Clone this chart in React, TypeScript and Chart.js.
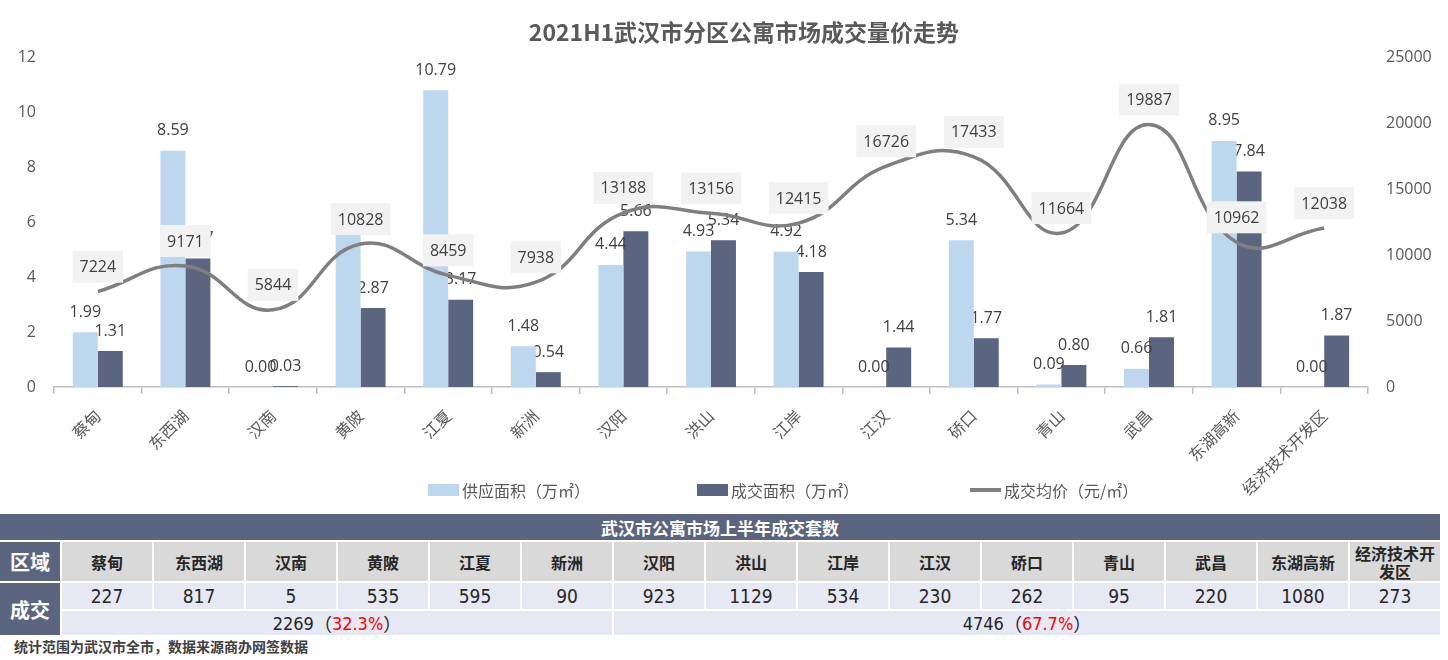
import React, { useEffect, useRef } from 'react';
import { Chart, registerables } from 'chart.js';

Chart.register(...registerables);

const titleText = '2021H1武汉市分区公寓市场成交量价走势';
const categories = ['蔡甸', '东西湖', '汉南', '黄陂', '江夏', '新洲', '汉阳', '洪山', '江岸', '江汉', '硚口', '青山', '武昌', '东湖高新', '经济技术开发区'];
const supplyArea = [1.99, 8.59, 0.0, 5.53, 10.79, 1.48, 4.44, 4.93, 4.92, 0.0, 5.34, 0.09, 0.66, 8.95, 0.0];
const dealArea = [1.31, 4.67, 0.03, 2.87, 3.17, 0.54, 5.66, 5.34, 4.18, 1.44, 1.77, 0.8, 1.81, 7.84, 1.87];
const avgPrice = [7224, 9171, 5844, 10828, 8459, 7938, 13188, 13156, 12415, 16726, 17433, 11664, 19887, 10962, 12038];
const seriesNames = ['供应面积（万㎡）', '成交面积（万㎡）', '成交均价（元/㎡）'];
const leftAxis = { min: 0, max: 12, step: 2 };
const rightAxis = { min: 0, max: 25000, step: 5000 };

const tableTitle = '武汉市公寓市场上半年成交套数';
const rowHeadRegion = '区域';
const rowHeadDeal = '成交';
const dealUnits = [227, 817, 5, 535, 595, 90, 923, 1129, 534, 230, 262, 95, 220, 1080, 273];
const groupTotals = ['2269', '4746'];
const groupShares = ['32.3%', '67.7%'];
const groupSpans = [6, 9];
const footnote = '统计范围为武汉市全市，数据来源商办网签数据';

const LIGHT = '#bdd7ee';
const DARK = '#5b6580';
const LINE = '#7f7f7f';
const TEXT = '#404040';
const AXIS_TEXT = '#595959';
const NUM_FONT = '"Open Sans", "Noto Sans CJK SC", sans-serif';
const CJK_FONT = '"Noto Sans CJK SC", "Open Sans", sans-serif';

const labelPlugin = {
  id: 'valueLabels',
  afterDatasetDraw(chart: any, args: any) {
    const meta = args.meta;
    const ds = chart.data.datasets[meta.index];
    const ctx = chart.ctx;
    ctx.save();
    ctx.font = `16px ${NUM_FONT}`;
    ctx.textAlign = 'center';
    ctx.textBaseline = 'middle';
    if (meta.type === 'bar') {
      meta.data.forEach((el: any, i: number) => {
        const v = ds.data[i] as number;
        ctx.fillStyle = TEXT;
        ctx.fillText(v.toFixed(2), el.x, el.y - 20);
      });
    } else if (meta.type === 'line') {
      meta.data.forEach((el: any, i: number) => {
        const txt = String(ds.data[i]);
        const w = ctx.measureText(txt).width + 14;
        const h = 32;
        const cy = el.y - 25;
        ctx.fillStyle = '#f2f2f2';
        ctx.fillRect(el.x - w / 2, cy - h / 2, w, h);
        ctx.fillStyle = TEXT;
        ctx.fillText(txt, el.x, cy + 1);
      });
    }
    ctx.restore();
  },
};

function ChartCanvas() {
  const ref = useRef<HTMLCanvasElement | null>(null);
  useEffect(() => {
    if (!ref.current) return;
    const chart = new Chart(ref.current, {
      type: 'bar',
      data: {
        labels: categories,
        datasets: [
          {
            type: 'bar',
            label: seriesNames[0],
            data: supplyArea,
            yAxisID: 'y',
            backgroundColor: LIGHT,
            barPercentage: 1,
            categoryPercentage: 0.57,
            order: 1,
          },
          {
            type: 'bar',
            label: seriesNames[1],
            data: dealArea,
            yAxisID: 'y',
            backgroundColor: DARK,
            barPercentage: 1,
            categoryPercentage: 0.57,
            order: 2,
          },
          {
            type: 'line',
            label: seriesNames[2],
            data: avgPrice,
            yAxisID: 'y1',
            borderColor: LINE,
            backgroundColor: LINE,
            borderWidth: 3.5,
            pointRadius: 0,
            tension: 0.45,
            order: 0,
          } as any,
        ],
      },
      options: {
        responsive: false,
        animation: false,
        layout: { padding: { top: 57, left: 0, right: 0, bottom: 0 } },
        plugins: {
          legend: { display: false },
          title: { display: false },
          tooltip: { enabled: false },
        },
        scales: {
          x: {
            type: 'category',
            offset: true,
            grid: {
              display: true,
              drawOnChartArea: false,
              drawTicks: true,
              tickLength: 7,
              color: '#bfbfbf',
              lineWidth: 1.5,
              offset: true,
            },
            border: { display: true, color: '#bfbfbf', width: 1.5 },
            ticks: {
              minRotation: 45,
              maxRotation: 45,
              autoSkip: false,
              padding: 12,
              color: AXIS_TEXT,
              font: { size: 16, family: CJK_FONT },
            },
            afterFit: (s: any) => {
              s.height = 123;
            },
          },
          y: {
            position: 'left',
            min: leftAxis.min,
            max: leftAxis.max,
            grid: { display: false, drawTicks: false },
            border: { display: false },
            ticks: {
              stepSize: leftAxis.step,
              padding: 18,
              color: AXIS_TEXT,
              font: { size: 16, family: NUM_FONT },
              callback: (v: any) => String(v),
            },
            afterFit: (s: any) => {
              s.width = 54;
            },
          },
          y1: {
            position: 'right',
            min: rightAxis.min,
            max: rightAxis.max,
            grid: { display: false, drawTicks: false },
            border: { display: false },
            ticks: {
              stepSize: rightAxis.step,
              padding: 18,
              color: AXIS_TEXT,
              font: { size: 16, family: NUM_FONT },
              callback: (v: any) => String(v),
            },
            afterFit: (s: any) => {
              s.width = 80;
            },
          },
        },
      },
      plugins: [labelPlugin],
    } as any);
    return () => chart.destroy();
  }, []);
  return <canvas ref={ref} width={1448} height={510} style={{ position: 'absolute', left: 0, top: 0, width: 1448, height: 510 }} />;
}

function Legend() {
  const items = [
    { left: 428, kind: 'box', color: LIGHT, text: seriesNames[0] },
    { left: 697, kind: 'box', color: DARK, text: seriesNames[1] },
    { left: 970, kind: 'line', color: LINE, text: seriesNames[2] },
  ];
  return (
    <>
      {items.map((it, i) => (
        <div
          key={i}
          style={{
            position: 'absolute',
            left: it.left,
            top: 479,
            height: 22,
            display: 'flex',
            alignItems: 'center',
            fontFamily: CJK_FONT,
            fontSize: 16,
            color: AXIS_TEXT,
            whiteSpace: 'nowrap',
          }}
        >
          <span
            style={{
              display: 'inline-block',
              width: 31,
              height: it.kind === 'box' ? 12 : 4,
              background: it.color,
              marginRight: 3,
            }}
          />
          <span>{it.text}</span>
        </div>
      ))}
    </>
  );
}

function Table() {
  const cell: React.CSSProperties = {
    display: 'flex',
    alignItems: 'center',
    justifyContent: 'center',
    textAlign: 'center',
  };
  const numFont = '"Liberation Sans Narrow", "DejaVu Sans Condensed", "Noto Sans CJK SC", sans-serif';
  let col = 2;
  return (
    <div
      style={{
        position: 'absolute',
        left: 0,
        top: 514,
        width: 1440,
        display: 'grid',
        gridTemplateColumns: '60px repeat(15, 90px)',
        gridTemplateRows: '26px 39px 26px 24px',
        gap: 2,
        background: '#ffffff',
        fontFamily: CJK_FONT,
      }}
    >
      <div
        style={{
          ...cell,
          gridColumn: '1 / -1',
          gridRow: 1,
          background: DARK,
          color: '#ffffff',
          fontWeight: 700,
          fontSize: 17,
        }}
      >
        {tableTitle}
      </div>
      <div style={{ ...cell, gridColumn: 1, gridRow: 2, background: DARK, color: '#fff', fontWeight: 700, fontSize: 20 }}>
        {rowHeadRegion}
      </div>
      {categories.map((c, i) => (
        <div
          key={'h' + i}
          style={{
            ...cell,
            gridColumn: i + 2,
            gridRow: 2,
            background: '#d9d9d9',
            color: '#262626',
            fontWeight: 700,
            fontSize: 16,
            lineHeight: '18px',
            padding: '0 4px',
          }}
        >
          {c}
        </div>
      ))}
      <div style={{ ...cell, gridColumn: 1, gridRow: '3 / span 2', background: DARK, color: '#fff', fontWeight: 700, fontSize: 20 }}>
        {rowHeadDeal}
      </div>
      {dealUnits.map((v, i) => (
        <div
          key={'v' + i}
          style={{ ...cell, gridColumn: i + 2, gridRow: 3, background: '#e6e9f4', color: '#262626', fontSize: 19, fontFamily: numFont }}
        >
          {v}
        </div>
      ))}
      {groupTotals.map((t, i) => {
        const start = col;
        col += groupSpans[i];
        return (
          <div
            key={'t' + i}
            style={{
              ...cell,
              gridColumn: `${start} / span ${groupSpans[i]}`,
              gridRow: 4,
              background: '#e6e9f4',
              color: '#262626',
              fontSize: 18,
              fontFamily: numFont,
            }}
          >
            <span>{t}</span>
            <span style={{ fontFamily: CJK_FONT }}>（</span>
            <span style={{ color: '#ff0000' }}>{groupShares[i]}</span>
            <span style={{ fontFamily: CJK_FONT }}>）</span>
          </div>
        );
      })}
    </div>
  );
}

export default function App() {
  return (
    <div style={{ position: 'absolute', left: 0, top: 0, width: 1448, height: 660, background: '#ffffff', overflow: 'hidden' }}>
      <ChartCanvas />
      <div
        style={{
          position: 'absolute',
          left: 0,
          width: 1488,
          top: 15,
          textAlign: 'center',
          fontFamily: CJK_FONT,
          fontWeight: 700,
          fontSize: 23,
          color: AXIS_TEXT,
          lineHeight: '32px',
        }}
      >
        {titleText}
      </div>
      <Legend />
      <Table />
      <div
        style={{
          position: 'absolute',
          left: 14,
          top: 636,
          fontFamily: CJK_FONT,
          fontWeight: 700,
          fontSize: 14,
          color: TEXT,
          lineHeight: '20px',
        }}
      >
        {footnote}
      </div>
    </div>
  );
}
